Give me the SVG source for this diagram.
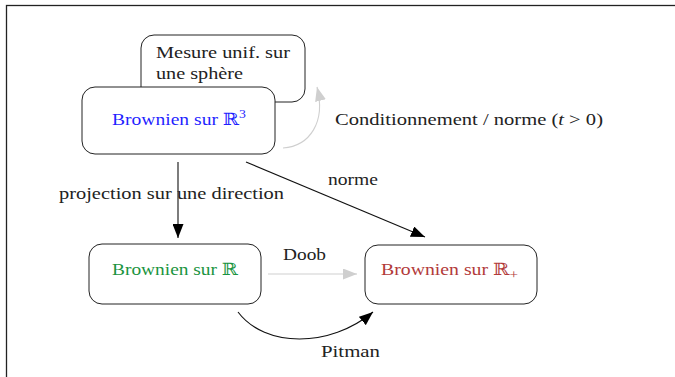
<svg xmlns="http://www.w3.org/2000/svg" width="675" height="377" viewBox="0 0 675 377">
  <style>
    text { font-family: "Liberation Serif", "DejaVu Serif", serif; font-size: 17px; fill: #222; }
    .bb { font-family: "DejaVu Serif", "DejaVu Sans", serif; }
    .node rect { fill: #fff; stroke: #222; stroke-width: 1; }
    .edge { fill: none; stroke: #111; stroke-width: 1.1; }
    .edge.light { stroke: #cfcfcf; }
  </style>
  <defs>
    <marker id="tip" markerUnits="userSpaceOnUse" markerWidth="14" markerHeight="11" refX="14" refY="5.5" orient="auto">
      <path d="M0,0 L14,5.5 L0,11 z" fill="#000"/>
    </marker>
    <marker id="tip-light" markerUnits="userSpaceOnUse" markerWidth="14" markerHeight="11" refX="14" refY="5.5" orient="auto">
      <path d="M0,0 L14,5.5 L0,11 z" fill="#cfcfcf"/>
    </marker>
  </defs>

  <rect x="6.5" y="5.5" width="680" height="380" fill="none" stroke="#222" stroke-width="1.3"/>

  <g id="sphere" class="node">
    <rect x="141" y="35" width="164" height="67" rx="13"/>
    <text x="156" y="58" textLength="134" lengthAdjust="spacingAndGlyphs">Mesure unif. sur</text>
    <text x="156" y="79" textLength="87" lengthAdjust="spacingAndGlyphs">une sphère</text>
  </g>

  <g id="brownien-r3" class="node">
    <rect x="82" y="87" width="193" height="67" rx="13"/>
    <text x="112" y="125" style="fill:#1f1fff" textLength="134" lengthAdjust="spacingAndGlyphs">Brownien sur <tspan class="bb">ℝ</tspan><tspan dy="-7" font-size="12">3</tspan></text>
  </g>

  <g id="brownien-r" class="node">
    <rect x="89" y="244" width="172" height="60" rx="13"/>
    <text x="112" y="275" style="fill:#1a9440" textLength="126" lengthAdjust="spacingAndGlyphs">Brownien sur <tspan class="bb">ℝ</tspan></text>
  </g>

  <g id="brownien-rplus" class="node">
    <rect x="365" y="245" width="172" height="59" rx="13"/>
    <text x="381" y="275" style="fill:#b23a3a" textLength="137" lengthAdjust="spacingAndGlyphs">Brownien sur <tspan class="bb">ℝ</tspan><tspan dy="4" font-size="13">+</tspan></text>
  </g>

  <g id="connectors">
    <path class="edge light" d="M283,148 C310,146 326,122 317,87" marker-end="url(#tip-light)"/>
    <text x="335" y="125" textLength="268" lengthAdjust="spacingAndGlyphs">Conditionnement / norme (<tspan font-style="italic">t</tspan> &gt; 0)</text>

    <path class="edge" d="M178,162 L178,238" marker-end="url(#tip)"/>
    <text x="59" y="199" textLength="225" lengthAdjust="spacingAndGlyphs">projection sur une direction</text>

    <path class="edge" d="M246,162 L425,237" marker-end="url(#tip)"/>
    <text x="328" y="185" textLength="50" lengthAdjust="spacingAndGlyphs">norme</text>

    <path class="edge light" d="M268,274 L357,274" marker-end="url(#tip-light)"/>
    <text x="283" y="260" textLength="43" lengthAdjust="spacingAndGlyphs">Doob</text>

    <path class="edge" d="M238,312 C265,348 330,348 373,312" marker-end="url(#tip)"/>
    <text x="321" y="357" textLength="59" lengthAdjust="spacingAndGlyphs">Pitman</text>
  </g>
</svg>
